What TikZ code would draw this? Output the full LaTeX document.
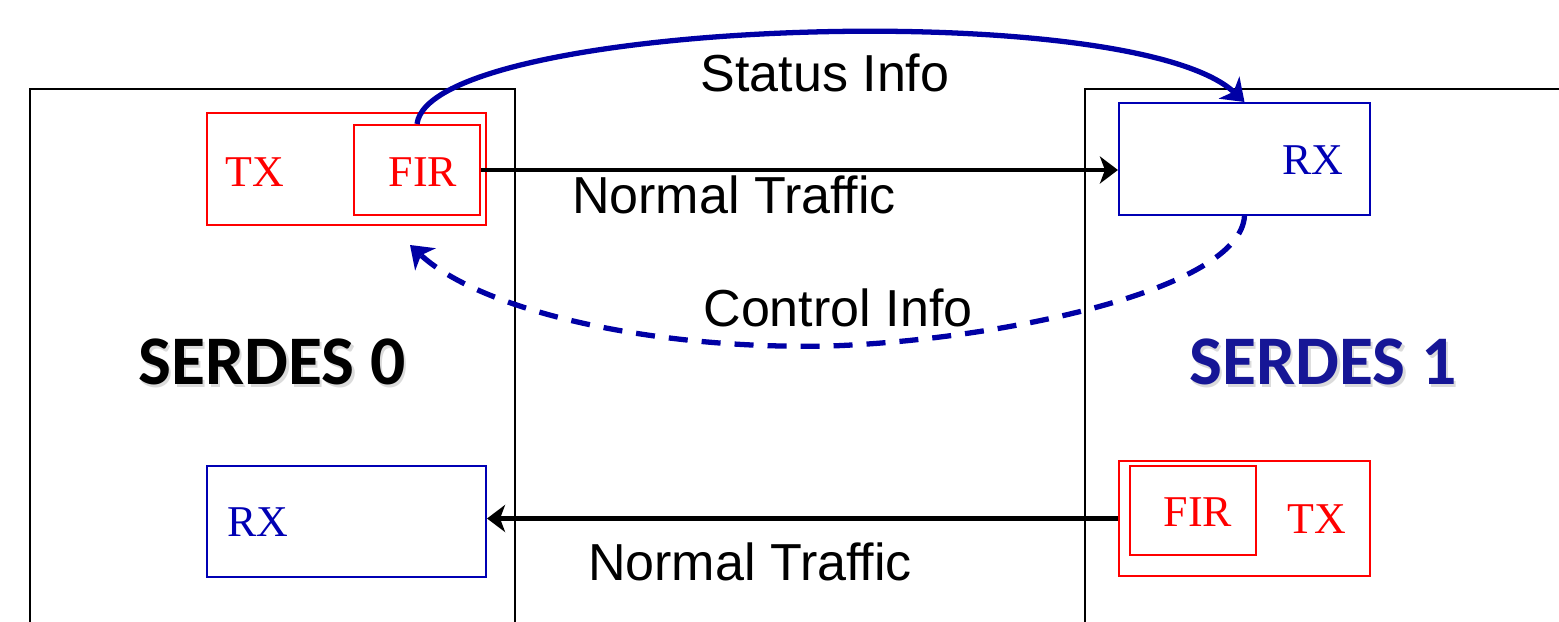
\documentclass[tikz,border=0pt]{standalone}
\usepackage{fontspec}
\setmainfont{Liberation Serif}
\newfontfamily\arialfont{Liberation Sans}
\newfontfamily\calfont{Carlito}
\usetikzlibrary{arrows.meta,positioning}
\definecolor{red}{RGB}{255,0,0}
\definecolor{blue}{RGB}{0,0,180}
\definecolor{navy}{RGB}{22,22,150}
\definecolor{linkblue}{RGB}{0,0,165}
\tikzset{
  chip/.style={draw=black, line width=0.5pt, minimum width=#1, minimum height=6.11cm, inner sep=0pt},
  unitbox/.style={draw=#1, line width=0.55pt, inner sep=0pt},
  tag/.style={text=#1, font=\fontsize{12.5}{14}\selectfont, inner sep=0pt},
  chipname/.style={text=#1, font=\calfont\bfseries\fontsize{19.8}{24}\selectfont, inner sep=0pt},
  note/.style={font=\arialfont\fontsize{14.8}{17}\selectfont, inner sep=0pt},
  arrow/.style={-{Stealth[length=1.8mm, width=2.7mm, inset=0.5mm]}, line width=1.3pt, draw=black},
  bluelink/.style={-{Stealth[length=2.1mm, width=3mm, inset=0.6mm]}, line width=1.5pt, draw=linkblue},
  dashlink/.style={bluelink, dash pattern=on 0.19cm off 0.14cm}
}
\begin{document}
\begin{tikzpicture}[x=0.01cm, y=-0.01cm]
  \useasboundingbox (0,0) rectangle (1559,622);
  \clip (0,0) rectangle (1559,622);
  % the two serdes blocks run off the bottom edge
  \node[chip=4.85cm] (serdes0) at (272.5,394.5) {};
  \node[chip=6.15cm] (serdes1) at (1392.5,394.5) {};
  % serdes 0
  \node[unitbox=red, minimum width=2.79cm, minimum height=1.12cm] (tx0) at (346.5,169) {};
  \node[unitbox=red, minimum width=1.26cm, minimum height=0.90cm] (fir0) at (417,170) {};
  \node[tag=red] (tx0 lbl) at (255,172) {TX};
  \node[tag=red] (fir0 lbl) at (423,172) {FIR};
  \node[unitbox=blue, minimum width=2.79cm, minimum height=1.11cm] (rx0) at (346.5,521.5) {};
  \node[tag=blue] (rx0 lbl) at (258,522) {RX};
  % serdes 1
  \node[unitbox=blue, minimum width=2.51cm, minimum height=1.12cm] (rx1) at (1244.5,159) {};
  \node[tag=blue] (rx1 lbl) at (1313,160) {RX};
  \node[unitbox=red, minimum width=2.51cm, minimum height=1.15cm] (tx1) at (1244.5,518.5) {};
  \node[unitbox=red, minimum width=1.26cm, minimum height=0.89cm] (fir1) at (1193,510.5) {};
  \node[tag=red] (fir1 lbl) at (1198,512) {FIR};
  \node[tag=red] (tx1 lbl) at (1317,519) {TX};
  % block names with a soft drop shadow
  \node[chipname=black!40, opacity=0.35] at (274.5,364.5) {SERDES 0};
  \node[chipname=black] (serdes0 lbl) at (272,362) {SERDES 0};
  \node[chipname=black!40, opacity=0.35] at (1325.5,364.5) {SERDES 1};
  \node[chipname=navy] (serdes1 lbl) at (1323,362) {SERDES 1};
  % traffic
  \draw[arrow] (fir0.east) -- (fir0.east -| rx1.west);
  \node[note] (traffic01) at (734,195) {Normal Traffic};
  \draw[arrow] (tx1.west) -- (tx1.west -| rx0.east);
  \node[note] (traffic10) at (750,562) {Normal Traffic};
  % adaptation loop
  \draw[bluelink] (fir0.north) .. controls (430,20) and (1130,-5) .. (rx1.north);
  \node[note] (status) at (825,73) {Status Info};
  \coordinate (ctl end) at (410,245);
  \draw[dashlink] (rx1.south) .. controls (1240,290) and (1000,340) .. (830,346)
    .. controls (650,350) and (480,310) .. (ctl end);
  \node[note] (control) at (838,308) {Control Info};
\end{tikzpicture}
\end{document}
